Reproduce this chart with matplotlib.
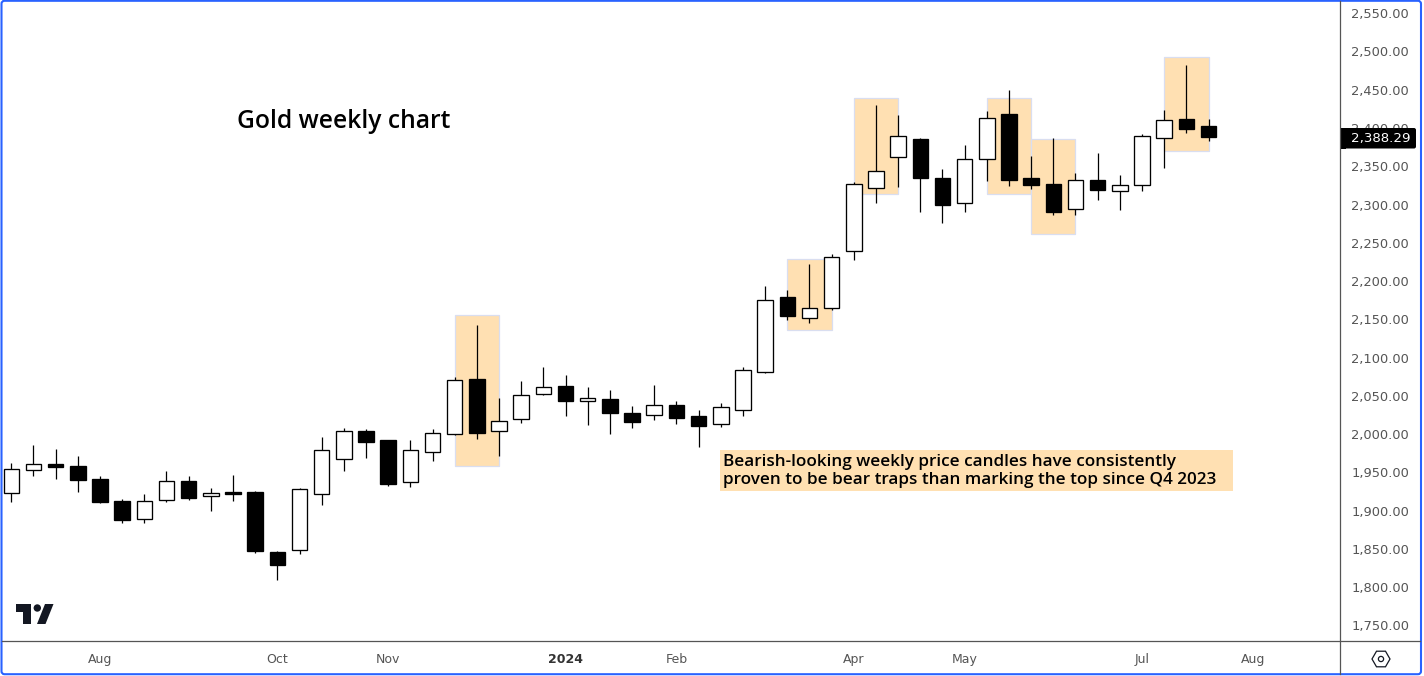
import matplotlib
matplotlib.use("Agg")
import matplotlib.pyplot as plt
from matplotlib.patches import Rectangle, Circle, Polygon, RegularPolygon, FancyBboxPatch
from matplotlib.ticker import FuncFormatter

W, H = 1424, 676

# open, high, low, close - weekly gold
candles = [
    (1922.7, 1961.9, 1911.7, 1954.1), (1952.8, 1985.4, 1945.7, 1960.6),
    (1961.0, 1980.2, 1941.8, 1957.5), (1958.4, 1971.4, 1924.8, 1940.5),
    (1941.4, 1945.3, 1910.4, 1911.7), (1912.6, 1915.2, 1884.3, 1888.2),
    (1888.7, 1921.8, 1884.3, 1912.2), (1913.6, 1951.8, 1911.7, 1938.4),
    (1938.8, 1945.3, 1914.3, 1917.0), (1918.8, 1929.2, 1900.0, 1922.7),
    (1924.4, 1946.2, 1913.0, 1922.2), (1924.4, 1925.7, 1845.1, 1847.7),
    (1846.0, 1847.3, 1809.8, 1829.4), (1848.2, 1929.6, 1843.8, 1927.9),
    (1921.4, 1995.9, 1907.8, 1978.9), (1967.1, 2007.6, 1952.2, 2003.7),
    (2004.1, 2006.7, 1969.2, 1990.1), (1992.3, 1992.3, 1932.6, 1935.2),
    (1937.1, 1992.3, 1931.3, 1978.9), (1976.3, 2006.7, 1965.3, 2001.1),
    (1999.8, 2074.3, 1999.3, 2070.3), (2072.0, 2142.6, 1994.0, 2001.9),
    (2003.7, 2047.2, 1971.8, 2016.8), (2019.4, 2069.4, 2015.0, 2050.7),
    (2052.0, 2087.7, 2051.5, 2061.2), (2062.9, 2077.3, 2024.1, 2043.7),
    (2042.9, 2061.6, 2012.3, 2046.8), (2045.9, 2057.7, 2000.6, 2028.0),
    (2027.6, 2036.8, 2008.4, 2016.2), (2024.6, 2064.2, 2018.9, 2037.7),
    (2038.1, 2043.3, 2013.6, 2021.5), (2023.7, 2031.5, 1983.6, 2011.0),
    (2012.9, 2040.7, 2009.7, 2035.0), (2031.1, 2087.7, 2024.1, 2083.4),
    (2080.8, 2193.6, 2079.9, 2175.3), (2179.2, 2188.3, 2149.1, 2154.7),
    (2151.3, 2222.3, 2145.6, 2164.4), (2164.4, 2235.4, 2162.6, 2231.0),
    (2238.9, 2329.4, 2227.9, 2326.4), (2321.2, 2430.0, 2302.4, 2343.4),
    (2361.7, 2417.0, 2323.3, 2389.1), (2385.6, 2386.9, 2290.6, 2335.0),
    (2334.6, 2346.4, 2276.2, 2299.8), (2301.6, 2377.8, 2290.6, 2359.1),
    (2359.1, 2422.2, 2331.1, 2412.6), (2418.3, 2449.6, 2324.6, 2332.4),
    (2334.6, 2363.4, 2320.7, 2325.9), (2326.8, 2386.9, 2286.7, 2290.6),
    (2293.7, 2341.2, 2286.7, 2331.6), (2332.0, 2367.3, 2306.3, 2319.4),
    (2317.3, 2338.6, 2293.2, 2325.1), (2325.1, 2392.1, 2318.1, 2389.1),
    (2386.5, 2423.5, 2348.1, 2410.0), (2411.7, 2482.3, 2393.0, 2399.0),
    (2402.6, 2411.7, 2383.4, 2388.3),
]

# highlighted zones: first candle, last candle, top price, bottom price
zones = [(20, 22, 2155.6, 1959.0), (35, 37, 2228.4, 2136.0), (38, 40, 2438.8, 2314.1),
         (44, 46, 2438.8, 2314.1), (46, 48, 2385.2, 2261.1), (52, 54, 2492.3, 2369.5)]

months = {4: "Aug", 12: "Oct", 17: "Nov", 25: "2024", 30: "Feb",
          38: "Apr", 43: "May", 51: "Jul", 56: "Aug"}

fig = plt.figure(figsize=(W / 100, H / 100), dpi=100, facecolor="white")
ax = fig.add_axes([3 / W, 1 - 641 / H, 1337 / W, 639 / H])
ax.set_xlim(-0.374, 59.93)
ax.set_ylim(1729.7, 2564.6)
for s in ax.spines.values():
    s.set_visible(False)

for first, last, top, bottom in zones:
    ax.add_patch(Rectangle((first, bottom), last - first, top - bottom, facecolor="#ffe0b2",
                           edgecolor="#d9def0", lw=0.9, zorder=1))

xs = list(range(len(candles)))
opens = [c[0] for c in candles]
highs = [c[1] for c in candles]
lows = [c[2] for c in candles]
closes = [c[3] for c in candles]
colors = ["white" if c > o else "black" for o, c in zip(opens, closes)]

ax.vlines(xs, lows, highs, color="black", lw=0.9, zorder=2)
ax.bar(xs, [abs(c - o) for o, c in zip(opens, closes)], bottom=[min(o, c) for o, c in zip(opens, closes)],
       width=0.7, color=colors, edgecolor="black", lw=0.95, zorder=3)

ax.yaxis.tick_right()
ax.set_yticks(range(1750, 2551, 50))
ax.yaxis.set_major_formatter(FuncFormatter(lambda v, p: f"{v:,.2f}"))
ax.tick_params(axis="y", length=0, pad=8, labelsize=9.4, labelcolor="#555555")
ax.set_xticks(list(months.keys()))
ax.set_xticklabels(list(months.values()))
ax.tick_params(axis="x", length=0, pad=8.8, labelsize=9.0, labelcolor="#555555")
for t in ax.get_xticklabels():
    if t.get_text() == "2024":
        t.set_fontweight("bold")
        t.set_color("#333333")

# frame, tag and logo live on a pixel overlay
ov = fig.add_axes([0, 0, 1, 1], zorder=5)
ov.set_xlim(0, W)
ov.set_ylim(H, 0)
ov.axis("off")
ov.plot([1340, 1340], [1, 674], color="#555555", lw=0.9)
ov.plot([2, 1420], [641, 641], color="#555555", lw=0.9)
ov.add_patch(FancyBboxPatch((1.5, 0.8), 1419.5, 673.4, boxstyle="round,pad=0,rounding_size=3",
                            facecolor="none", edgecolor="#2962ff", lw=1.5))

ov.add_patch(FancyBboxPatch((1340, 128), 76, 20.5, boxstyle="round,pad=0,rounding_size=2",
                            facecolor="black", edgecolor="none"))
ov.add_patch(Rectangle((1340, 128), 6, 20.5, facecolor="black", edgecolor="none"))
ov.text(1381, 138.6, "2,388.29", color="white", fontsize=9.6, ha="center", va="center",
        fontweight="medium")

ov.add_patch(Polygon([(16, 604), (31, 604), (31, 624), (23, 624), (23, 612), (16, 612)], color="#131722", lw=0))
ov.add_patch(Circle((37.3, 608), 3.7, color="#131722", lw=0))
ov.add_patch(Polygon([(45, 604), (53.5, 604), (45.5, 624), (37, 624)], color="#131722", lw=0))

ov.add_patch(RegularPolygon((1381, 659), 6, radius=9, orientation=0.5236, facecolor="none",
                            edgecolor="#131722", lw=0.9))
ov.add_patch(Circle((1381, 659), 2.6, facecolor="none", edgecolor="#131722", lw=0.9))

ov.text(237, 122, "Gold weekly chart", fontsize=17.7, family="Open Sans", fontweight="semibold",
        color="black", ha="left", va="center")

ov.add_patch(Rectangle((720, 450), 513, 41, facecolor="#ffe0b2", edgecolor="none"))
ov.text(723, 462.5, "Bearish-looking weekly price candles have consistently", fontsize=12.3, family="Open Sans",
        fontweight="semibold", color="black", ha="left", va="center")
ov.text(723, 480.5, "proven to be bear traps than marking the top since Q4 2023", fontsize=12.3, family="Open Sans",
        fontweight="semibold", color="black", ha="left", va="center")

fig.savefig("out.png", dpi=100)
